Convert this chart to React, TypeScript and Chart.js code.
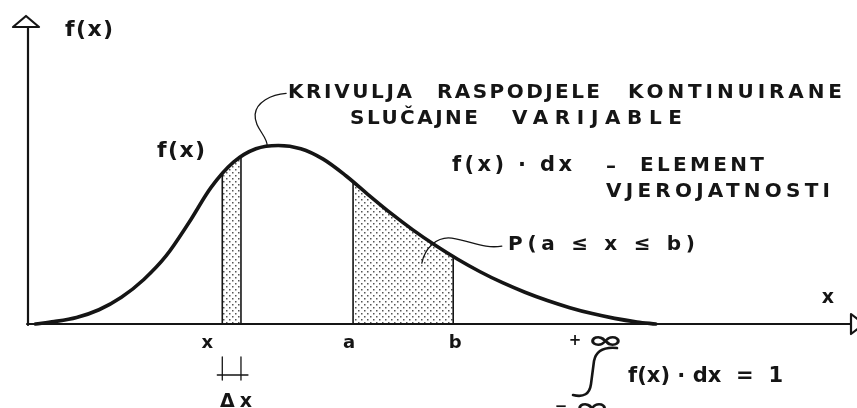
import React, { useEffect, useRef } from 'react';
import { Chart, registerables } from 'chart.js';

Chart.register(...registerables);

const INK = '#151515';

// Density curve f(x) (abstract units)
const curveX = [0.1, 0.35, 0.65, 0.95, 1.25, 1.55, 1.85, 2.15, 2.45, 2.75, 3.05, 3.35, 3.65, 3.95, 4.25, 4.55, 4.85, 5.15, 5.45, 5.75, 6.05, 6.35, 6.65, 6.95, 7.25, 7.55, 7.85, 8.15, 8.4];
const curveY = [0, 0.008, 0.022, 0.048, 0.09, 0.15, 0.23, 0.34, 0.46, 0.545, 0.59, 0.601, 0.59, 0.555, 0.5, 0.436, 0.374, 0.317, 0.265, 0.218, 0.176, 0.139, 0.107, 0.079, 0.055, 0.035, 0.019, 0.007, 0];

// Marked points on the x axis
const stripStart = 2.6; // x
const stripWidth = 0.25; // Δx
const intervalA = 4.35; // a
const intervalB = 5.69; // b
const xMax = 11;
const yMax = 1;

// Texts
const yAxisTitle = 'f(x)';
const xAxisTitle = 'x';
const curveLabel = 'f(x)';
const bottomLabels = ['x', 'a', 'b'];
const bottomLabelValues = [stripStart, intervalA, intervalB];
const titleWords1 = ['KRIVULJA', 'RASPODJELE', 'KONTINUIRANE'];
const titleWords2 = ['SLUČAJNE', 'VARIJABLE'];
const elementWords1 = ['f(x) · dx', '–', 'ELEMENT'];
const elementWords2 = ['VJEROJATNOSTI'];
const probabilityLabel = 'P(a ≤ x ≤ b)';
const deltaLabel = 'Δx';
const integrand = 'f(x) · dx  =  1';
const upperLimit = ['+', '∞'];
const lowerLimit = ['−', '∞'];

const font = (size: number) => `bold ${size}px "DejaVu Sans", sans-serif`;
const symFont = (size: number) => `bold ${size}px "DejaVu Sans", sans-serif`;

function fitText(ctx: any, text: string, left: number, right: number, baseline: number, f: string) {
  ctx.font = f;
  ctx.letterSpacing = '0px';
  const chars = Array.from(text);
  const w = ctx.measureText(text).width;
  ctx.textAlign = 'left';
  ctx.textBaseline = 'alphabetic';
  if (chars.length > 1) {
    const ls = (right - left - w) / (chars.length - 1);
    ctx.letterSpacing = `${ls}px`;
    ctx.fillText(text, left, baseline);
    ctx.letterSpacing = '0px';
  } else {
    ctx.fillText(text, (left + right) / 2 - w / 2, baseline);
  }
}

function glyphBox(ctx: any, text: string, left: number, top: number, right: number, bottom: number, f: string) {
  ctx.font = f;
  ctx.letterSpacing = '0px';
  ctx.textAlign = 'left';
  ctx.textBaseline = 'alphabetic';
  const m = ctx.measureText(text);
  const inkL = -m.actualBoundingBoxLeft;
  const inkR = m.actualBoundingBoxRight;
  const inkT = -m.actualBoundingBoxAscent;
  const inkB = m.actualBoundingBoxDescent;
  const sx = (right - left) / Math.max(1, inkR - inkL);
  const sy = (bottom - top) / Math.max(1, inkB - inkT);
  ctx.save();
  ctx.translate(left, top);
  ctx.scale(sx, sy);
  ctx.fillText(text, -inkL, -inkT);
  ctx.restore();
}

function underCurvePath(chart: any, ctx: CanvasRenderingContext2D) {
  const meta = chart.getDatasetMeta(0);
  const line = meta.dataset;
  const pts = meta.data;
  const y0 = chart.scales.y.getPixelForValue(0);
  if (line && typeof line.updateControlPoints === 'function') {
    line.updateControlPoints(chart.chartArea, 'x');
  }
  ctx.beginPath();
  if (line && typeof line.path === 'function') {
    line.path(ctx);
  } else {
    pts.forEach((p: any, i: number) => (i === 0 ? ctx.moveTo(p.x, p.y) : ctx.lineTo(p.x, p.y)));
  }
  ctx.lineTo(pts[pts.length - 1].x, y0);
  ctx.lineTo(pts[0].x, y0);
  ctx.closePath();
}

const shadingPlugin = {
  id: 'shading',
  beforeDatasetsDraw(chart: any) {
    const ctx = chart.ctx as CanvasRenderingContext2D;
    const xs = chart.scales.x;
    const area = chart.chartArea;
    const pc = document.createElement('canvas');
    pc.width = 6;
    pc.height = 6;
    const pctx = pc.getContext('2d')!;
    pctx.fillStyle = '#555';
    pctx.fillRect(1, 1, 1.5, 1.5);
    pctx.fillRect(4, 4, 1.5, 1.5);
    const pattern = ctx.createPattern(pc, 'repeat')!;
    const ranges = [
      [stripStart, stripStart + stripWidth],
      [intervalA, intervalB],
    ];
    for (const [lo, hi] of ranges) {
      const xl = xs.getPixelForValue(lo);
      const xr = xs.getPixelForValue(hi);
      ctx.save();
      ctx.beginPath();
      ctx.rect(xl, area.top - 20, xr - xl, area.bottom - area.top + 20);
      ctx.clip();
      underCurvePath(chart, ctx);
      ctx.fillStyle = pattern;
      ctx.fill();
      ctx.restore();

      ctx.save();
      underCurvePath(chart, ctx);
      ctx.clip();
      ctx.strokeStyle = INK;
      ctx.lineWidth = 1.6;
      for (const xv of [xl, xr]) {
        ctx.beginPath();
        ctx.moveTo(xv, area.bottom);
        ctx.lineTo(xv, area.top - 20);
        ctx.stroke();
      }
      ctx.restore();
    }
  },
};

const annotationPlugin = {
  id: 'annotations',
  afterDraw(chart: any) {
    const ctx = chart.ctx as any;
    const xs = chart.scales.x;
    const ys = chart.scales.y;
    const x0 = xs.getPixelForValue(0);
    const y0 = ys.getPixelForValue(0);
    ctx.save();
    ctx.strokeStyle = INK;
    ctx.fillStyle = INK;
    ctx.lineCap = 'round';
    ctx.lineJoin = 'round';

    // axes
    ctx.lineWidth = 2.2;
    ctx.beginPath();
    ctx.moveTo(x0, y0 + 1);
    ctx.lineTo(x0, 27);
    ctx.moveTo(x0 - 1, y0);
    ctx.lineTo(850, y0);
    ctx.stroke();
    // arrow heads (open)
    ctx.fillStyle = '#fff';
    ctx.beginPath();
    ctx.moveTo(x0 - 2, 16);
    ctx.lineTo(x0 - 15, 27);
    ctx.lineTo(x0 + 11, 27);
    ctx.closePath();
    ctx.fill();
    ctx.stroke();
    ctx.beginPath();
    ctx.moveTo(851, y0 - 10);
    ctx.lineTo(864, y0);
    ctx.lineTo(851, y0 + 10);
    ctx.closePath();
    ctx.fill();
    ctx.stroke();
    ctx.fillStyle = INK;

    // axis titles
    fitText(ctx, yAxisTitle, 65, 113, 36, font(22));
    fitText(ctx, xAxisTitle, 822, 834, 303, font(19));
    fitText(ctx, curveLabel, 157, 205, 157, font(22));

    // bottom labels
    const offsets = [-15, -4, 2];
    bottomLabels.forEach((t, i) => {
      const c = xs.getPixelForValue(bottomLabelValues[i]) + offsets[i];
      fitText(ctx, t, c - 6, c + 6, 348, font(18));
    });

    // Δx marks
    const xl = xs.getPixelForValue(stripStart);
    const xr = xs.getPixelForValue(stripStart + stripWidth);
    ctx.lineWidth = 1.3;
    ctx.beginPath();
    ctx.moveTo(xl, 357);
    ctx.lineTo(xl, 380);
    ctx.moveTo(xr, 357);
    ctx.lineTo(xr, 380);
    ctx.moveTo(xl - 5, 375);
    ctx.lineTo(xr + 7, 375);
    ctx.stroke();
    fitText(ctx, deltaLabel, 220, 252, 407, font(19));

    // curve title + leader
    fitText(ctx, titleWords1[0], 288, 412, 98, font(20));
    fitText(ctx, titleWords1[1], 437, 600, 98, font(20));
    fitText(ctx, titleWords1[2], 628, 842, 98, font(20));
    fitText(ctx, titleWords2[0], 350, 478, 124, font(20));
    fitText(ctx, titleWords2[1], 512, 682, 124, font(20));
    const ax = xs.getPixelForValue(3.2);
    const ay = ys.getPixelForValue(0.598);
    ctx.lineWidth = 1.3;
    ctx.beginPath();
    ctx.moveTo(ax, ay);
    ctx.bezierCurveTo(ax + 1, ay - 10, ax - 13, ay - 18, ax - 12, ay - 32);
    ctx.bezierCurveTo(ax - 11, ay - 44, ax + 4, ay - 52, ax + 19, ay - 53);
    ctx.stroke();

    // element of probability
    fitText(ctx, elementWords1[0], 452, 572, 171, font(21));
    fitText(ctx, elementWords1[1], 604, 618, 172, font(20));
    fitText(ctx, elementWords1[2], 640, 764, 171, font(20));
    fitText(ctx, elementWords2[0], 606, 830, 197, font(20));

    // probability label + leader
    fitText(ctx, probabilityLabel, 508, 695, 250, font(20));
    const bx = xs.getPixelForValue(5.27);
    const by = ys.getPixelForValue(0.205);
    ctx.lineWidth = 1.3;
    ctx.beginPath();
    ctx.moveTo(bx, by);
    ctx.bezierCurveTo(bx + 3, by - 15, bx + 15, by - 27, bx + 30, by - 25);
    ctx.bezierCurveTo(bx + 50, by - 22, bx + 62, by - 14, bx + 80, by - 17);
    ctx.stroke();

    // integral
    ctx.lineWidth = 2.6;
    ctx.beginPath();
    ctx.moveTo(573, 395);
    ctx.quadraticCurveTo(589, 399, 591, 384);
    ctx.lineTo(594, 361);
    ctx.quadraticCurveTo(597, 346, 617, 348);
    ctx.stroke();
    fitText(ctx, upperLimit[0], 570, 580, 345, font(15));
    glyphBox(ctx, upperLimit[1], 590, 335, 621, 346, symFont(30));
    fitText(ctx, lowerLimit[0], 556, 566, 411, font(15));
    glyphBox(ctx, lowerLimit[1], 577, 402, 607, 413, symFont(30));
    fitText(ctx, integrand, 628, 783, 382, font(21));

    ctx.restore();
  },
};

export default function App() {
  const ref = useRef<HTMLCanvasElement | null>(null);
  useEffect(() => {
    if (!ref.current) return;
    const chart = new Chart(ref.current, {
      type: 'line',
      data: {
        datasets: [
          {
            data: curveX.map((x, i) => ({ x, y: curveY[i] })),
            borderColor: INK,
            borderWidth: 3.6,
            pointRadius: 0,
            cubicInterpolationMode: 'monotone',
            fill: false,
            clip: false as any,
            borderCapStyle: 'round',
            borderJoinStyle: 'round',
          } as any,
        ],
      },
      options: {
        animation: false,
        responsive: false,
        devicePixelRatio: 1,
        events: [],
        layout: { padding: { left: 28, right: 7, top: 27, bottom: 84 } },
        scales: {
          x: { type: 'linear', min: 0, max: xMax, display: false },
          y: { type: 'linear', min: 0, max: yMax, display: false },
        },
        plugins: { legend: { display: false }, tooltip: { enabled: false } },
      },
      plugins: [shadingPlugin, annotationPlugin],
    });
    return () => chart.destroy();
  }, []);
  return (
    <canvas
      ref={ref}
      width={857}
      height={408}
      style={{ position: 'absolute', left: 0, top: 0, width: 857, height: 408, background: '#fff' }}
    />
  );
}
